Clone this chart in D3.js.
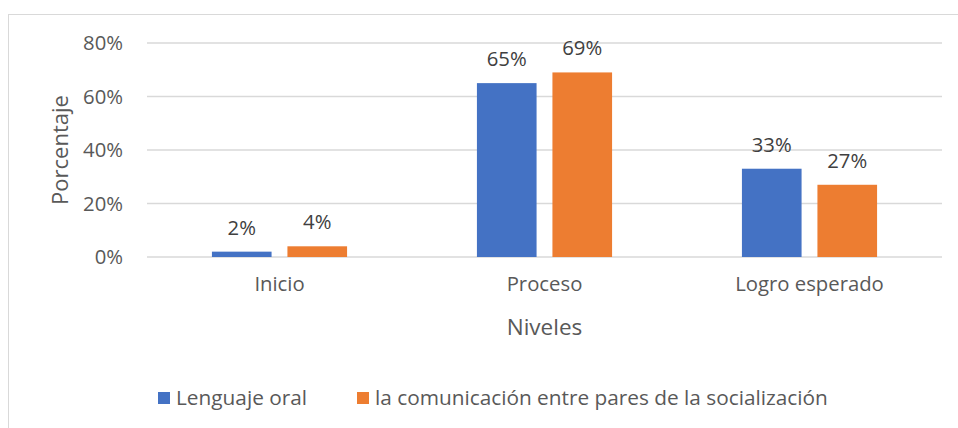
<!DOCTYPE html>
<html>
<head>
<meta charset="utf-8">
<script src="https://cdn.jsdelivr.net/npm/d3@7"></script>
<style>
  body { margin: 0; background: #fff; }
  text { font-family: "Open Sans", sans-serif; fill: #595959; }
</style>
</head>
<body>
<div id="chart"></div>
<script>
// Data
var categories = ["Inicio", "Proceso", "Logro esperado"];
var seriesNames = ["Lenguaje oral", "la comunicación entre pares de la socialización"];
var lenguajeOral = [0.02, 0.65, 0.33];
var comunicacion = [0.04, 0.69, 0.27];
var yTicks = [0, 0.2, 0.4, 0.6, 0.8];
var colors = ["#4472C4", "#ED7D31"];

var width = 958, height = 428,
    margin = { left: 147, top: 43, right: 16, bottom: 171 },
    plotW = width - margin.left - margin.right,
    plotH = height - margin.top - margin.bottom,
    fontFam = "'Open Sans', sans-serif",
    labelSize = "20.3px";

var svg = d3.select("#chart").append("svg")
    .attr("width", width)
    .attr("height", height);

// Chart border
svg.append("rect")
    .attr("x", 8.5).attr("y", 14.5)
    .attr("width", 970).attr("height", 430)
    .style("fill", "none")
    .style("stroke", "#d9d9d9")
    .style("stroke-width", 1);

var g = svg.append("g")
    .attr("transform", "translate(" + margin.left + "," + margin.top + ")");

var x0 = d3.scaleBand().domain(categories).range([0, plotW]).paddingInner(0).paddingOuter(0);
var x1 = d3.scaleBand().domain([0, 1]).range([x0.bandwidth() * 0.245, x0.bandwidth() * 0.755]).paddingInner(0.21);
var y = d3.scaleLinear().domain([0, 0.8]).range([plotH, 0]);

// Gridlines
g.selectAll("line.grid")
    .data(yTicks)
    .enter().append("line")
    .attr("class", "grid")
    .attr("x1", 0).attr("x2", plotW)
    .attr("y1", function(d) { return y(d); })
    .attr("y2", function(d) { return y(d); })
    .style("stroke", "#d9d9d9")
    .style("stroke-width", 1.3);

// Y axis labels
var yAxis = d3.axisLeft(y).tickValues(yTicks).tickFormat(d3.format(".0%")).tickSize(0).tickPadding(24);
g.append("g").call(yAxis)
    .call(function(s) { s.select(".domain").remove(); })
    .selectAll("text")
    .style("font-size", labelSize)
    .style("font-family", fontFam)
    .attr("fill", "#595959");

// X axis labels
var xAxis = d3.axisBottom(x0).tickSize(0).tickPadding(20);
g.append("g").attr("transform", "translate(0," + plotH + ")").call(xAxis)
    .call(function(s) { s.select(".domain").remove(); })
    .selectAll("text")
    .style("font-size", labelSize)
    .style("font-family", fontFam)
    .attr("fill", "#595959");

// Bars
var rows = categories.map(function(c, i) { return { cat: c, vals: [lenguajeOral[i], comunicacion[i]] }; });

var groups = g.selectAll("g.cat")
    .data(rows)
    .enter().append("g")
    .attr("class", "cat")
    .attr("transform", function(d) { return "translate(" + x0(d.cat) + ",0)"; });

groups.selectAll("rect")
    .data(function(d) { return d.vals; })
    .enter().append("rect")
    .attr("x", function(d, i) { return x1(i); })
    .attr("width", x1.bandwidth())
    .attr("y", function(d) { return y(d); })
    .attr("height", function(d) { return plotH - y(d); })
    .style("fill", function(d, i) { return colors[i]; });

groups.selectAll("text.lbl")
    .data(function(d) { return d.vals; })
    .enter().append("text")
    .attr("class", "lbl")
    .attr("x", function(d, i) { return x1(i) + x1.bandwidth() / 2; })
    .attr("y", function(d) { return y(d) - 17; })
    .attr("text-anchor", "middle")
    .style("font-size", labelSize)
    .style("fill", "#404040")
    .text(function(d) { return d3.format(".0%")(d); });

// Axis titles
svg.append("text")
    .attr("x", margin.left + plotW / 2)
    .attr("y", 335)
    .attr("text-anchor", "middle")
    .style("font-size", "22.5px")
    .text("Niveles");

svg.append("text")
    .attr("transform", "translate(68," + (margin.top + plotH / 2) + ") rotate(-90)")
    .attr("text-anchor", "middle")
    .style("font-size", "22px")
    .text("Porcentaje");

// Legend
var legendX = [158, 357];
var legend = svg.selectAll("g.legend")
    .data(seriesNames)
    .enter().append("g")
    .attr("class", "legend")
    .attr("transform", function(d, i) { return "translate(" + legendX[i] + ",392)"; });

legend.append("rect")
    .attr("width", 12).attr("height", 12)
    .style("fill", function(d, i) { return colors[i]; });

legend.append("text")
    .attr("x", 18).attr("y", 13)
    .style("font-size", "20.8px")
    .text(function(d) { return d; });
</script>
</body>
</html>
